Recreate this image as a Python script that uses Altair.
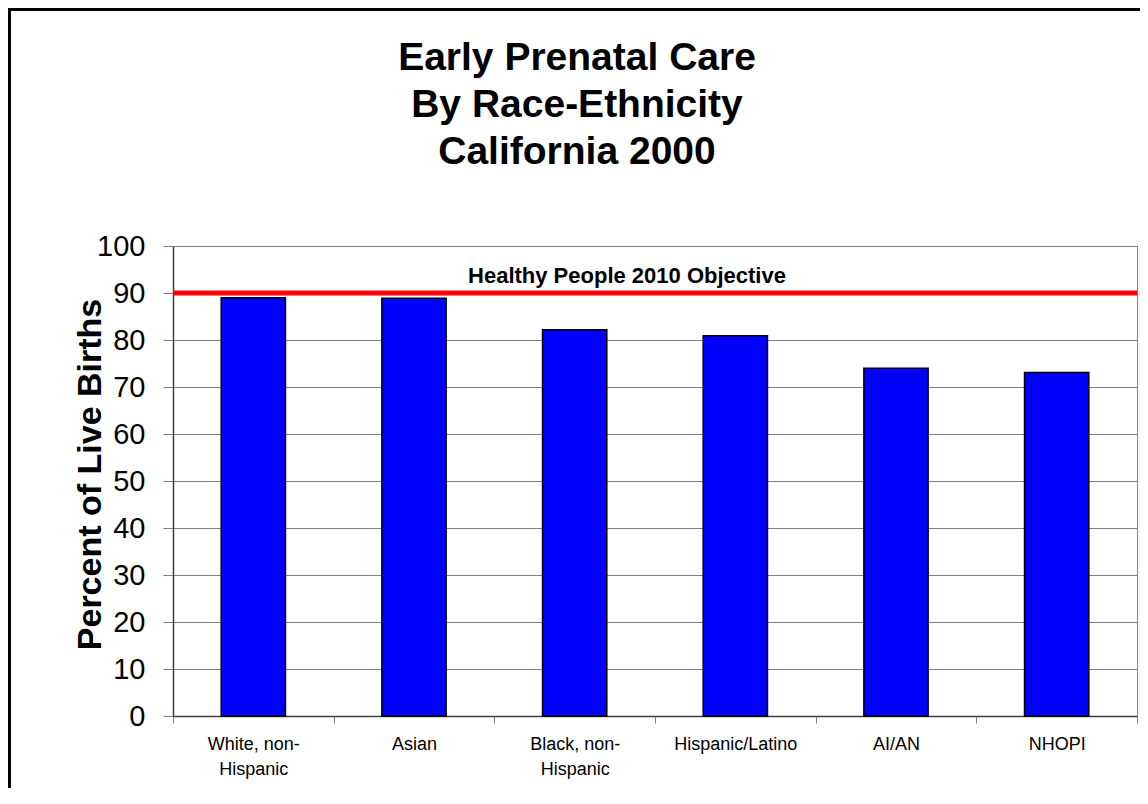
import altair as alt
import pandas as pd

categories = ["White, non-Hispanic", "Asian", "Black, non-Hispanic",
              "Hispanic/Latino", "AI/AN", "NHOPI"]
percents = [89.0, 88.9, 82.2, 80.9, 74.0, 73.1]
objective = [90]
objective_label = ["Healthy People 2010 Objective"]
title_lines = ["Early Prenatal Care", "By Race-Ethnicity", "California 2000"]
y_ticks = list(range(0, 101, 10))

df = pd.DataFrame({"group": categories, "pct": percents})
obj_df = pd.DataFrame({"pct": objective, "label": objective_label})
one_df = pd.DataFrame({"k": [0]})

W, H = 964, 470
FONT = "Liberation Sans"

x_enc = alt.X(
    "group:N", sort=categories,
    scale=alt.Scale(paddingInner=0, paddingOuter=0),
    axis=alt.Axis(
        title=None, labelAngle=0, labelFontSize=18, labelFont=FONT,
        labelColor="black", labelLineHeight=25, labelPadding=12,
        tickBand="extent", tickSize=7, tickColor="#808080",
        domainColor="#404040", domainWidth=1.5, grid=False,
        labelExpr="split(replace(datum.label, ', non-', ', non-|'), '|')",
    ),
)

y_enc = alt.Y(
    "pct:Q",
    scale=alt.Scale(domain=[0, 100], nice=False),
    axis=alt.Axis(
        values=y_ticks, title="Percent of Live Births",
        titleFontSize=34, titleFont=FONT, titleFontWeight="bold",
        titleColor="black", titleX=-83, titleY=228, titleAngle=270,
        titleAlign="center", titleBaseline="middle",
        labelFontSize=29, labelFont=FONT, labelColor="black", labelPadding=18,
        tickSize=10, tickColor="#808080", domainColor="#404040",
        domainWidth=1.5, grid=True, gridColor="#808080", gridWidth=1,
    ),
)

bars = alt.Chart(df).mark_bar(
    color="#0000FF", stroke="black", strokeWidth=1.5,
    width=alt.RelativeBandSize(0.40),
).encode(x=x_enc, y=y_enc)

rule = alt.Chart(obj_df).mark_rule(color="#FF0000", strokeWidth=5).encode(y=y_enc)

rule_text = alt.Chart(obj_df).mark_text(
    font=FONT, fontSize=22, fontWeight="bold", color="black",
    align="center", baseline="alphabetic", dy=-10,
).encode(x=alt.value(454), y=y_enc, text="label:N")

title = alt.Chart(one_df).mark_text(
    text=title_lines, font=FONT, fontSize=39, fontWeight="bold",
    color="black", align="center", baseline="alphabetic", lineHeight=47,
).encode(x=alt.value(404), y=alt.value(-176))

border = alt.Chart(one_df).mark_rect(
    fillOpacity=0, stroke="black", strokeWidth=3,
).encode(x=alt.value(-163.5), x2=alt.value(W + 300),
         y=alt.value(-236.5), y2=alt.value(H + 300))

chart = alt.layer(bars, rule, rule_text, title, border).properties(
    width=W, height=H,
    autosize=alt.AutoSizeParams(type="none"),
    padding={"left": 165, "top": 238, "right": 3, "bottom": 72},
    background="white",
).configure_view(stroke="#808080", strokeWidth=1)

chart.save("out.html", embed_options={"renderer": "svg", "actions": False})
